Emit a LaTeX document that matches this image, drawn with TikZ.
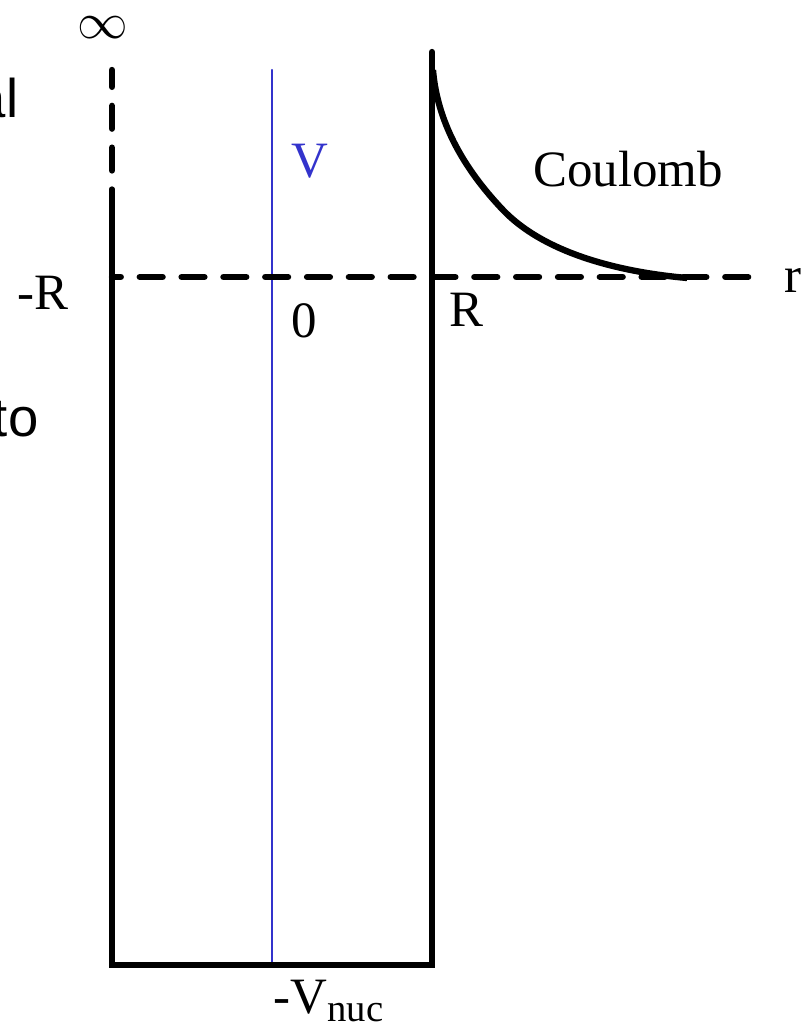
\documentclass[tikz,border=0pt]{standalone}
\usepackage{fontspec}
\setmainfont{Liberation Serif}
\newfontfamily\cutsans{Liberation Sans}
\usetikzlibrary{arrows,calc}
\usepackage{tkz-euclide}
\definecolor{AxisClr}{rgb}{0.2,0.2,0.8}
\definecolor{WellClr}{rgb}{0,0,0}

\begin{document}
\begin{tikzpicture}[font=\fontsize{14.5}{17}\selectfont,
  lbl/.style={inner sep=0pt,anchor=base},
  cut/.style={inner sep=0pt,anchor=base east,font=\cutsans\fontsize{15.5}{18}\selectfont}]
\useasboundingbox (0,0) rectangle (8.09,10.25);
\tkzSetUpLine[line width=1.8pt,color=WellClr]

\tkzDefPoints{1.12/9.55/Ltop,1.12/8.35/Ls,1.12/0.60/Lb,4.32/0.60/Rb,4.32/9.73/Rt}
\tkzDefPoints{2.72/9.55/Vt,2.72/0.60/Vb,1.12/7.48/Lm,7.52/7.48/Rend}
\tkzDefPoints{4.33/9.55/C1,5.03/8.15/C2,6.87/7.47/C3}

% blue axis
\tkzDrawSegment[line width=0.6pt,color=AxisClr](Vt,Vb)

% well
\tkzDrawSegments[dash pattern=on 6.5pt off 5.4pt,dash phase=1.7pt](Ltop,Ls)
\tkzDrawPolySeg[line join=miter](Ls,Lb,Rb,Rt)
\tkzDrawSegments[dash pattern=on 6.5pt off 5.4pt,dash phase=4pt](Lm,Rend)

% coulomb tail
\draw[line width=1.8pt,WellClr] (C1) .. controls (4.37,9.05) and (4.62,8.58) .. (C2)
  .. controls (5.48,7.68) and (6.30,7.52) .. (C3);

\node[lbl,font=\fontsize{15.5}{18}\selectfont] (inf) at (1.03,9.86) {$\infty$};
\node[lbl,text=AxisClr] (vlab) at (3.10,8.47) {V};
\node[lbl] (mR) at (0.43,7.15) {-R};
\node[lbl] (zero) at (3.04,6.87) {0};
\node[lbl] (pR) at (4.66,6.98) {R};
\node[lbl] (rlab) at (7.93,7.32) {r};
\node[lbl] (coul) at (6.28,8.38) {Coulomb};
\node[lbl,anchor=base west] (vnuc) at (2.73,0.12) {-V\raisebox{-2.5pt}{\fontsize{11}{13}\selectfont nuc}};
\node[cut] (al) at (0.19,9.07) {al};
\node[cut] (to) at (0.39,5.88) {to};

\end{tikzpicture}
\end{document}
